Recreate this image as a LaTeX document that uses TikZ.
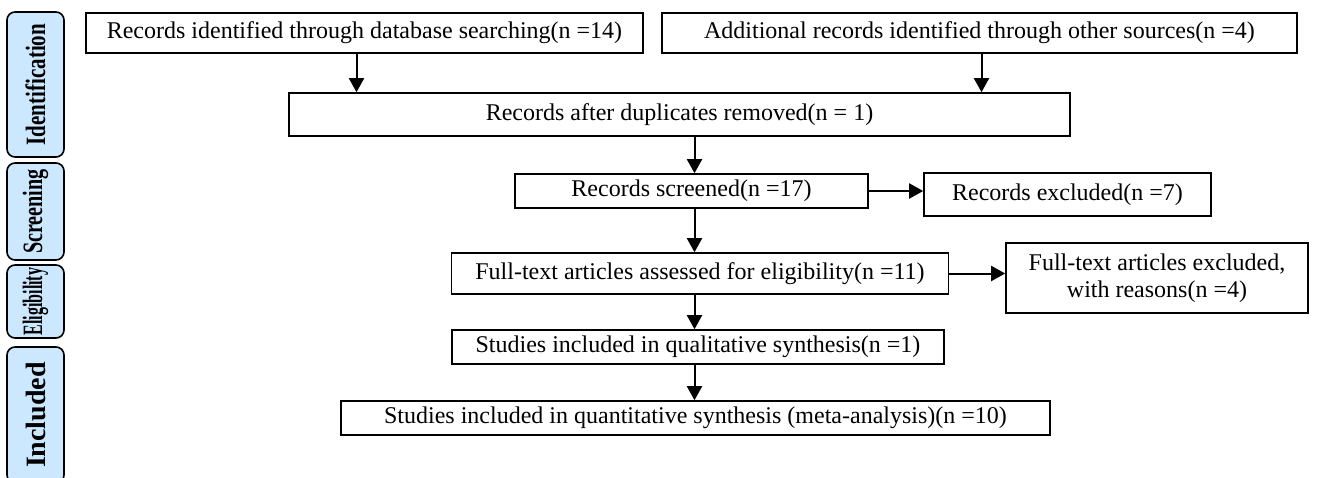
\documentclass[tikz,border=0pt]{standalone}
\usepackage{fontspec}
\setmainfont{Liberation Serif}
\usepackage{xcolor}
\usepackage{graphicx}
\usetikzlibrary{arrows.meta, positioning, calc}
\definecolor{stageblue}{RGB}{204,232,255}

\begin{document}
\begin{tikzpicture}[
    x=0.5pt, y=-0.5pt,
    recbox/.style={rectangle, draw=black, line width=0.8pt, fill=white, inner sep=0pt, align=center, font=\fontsize{12}{13.5}\selectfont},
    stagebox/.style={rectangle, draw=black, line width=0.8pt, fill=stageblue, rounded corners=4pt, rotate=90, inner sep=0pt, minimum height=28.5pt, font=\fontsize{14}{15}\selectfont\bfseries},
    arrow/.style={-{Triangle[length=7pt, width=7.5pt]}, line width=1pt, draw=black}
]
\useasboundingbox (0,0) rectangle (1318,477);

% Stage labels on the left
\node[stagebox, minimum width=72.5pt] (ident) at (35.5, 84.5) {\scalebox{0.75}[1]{Identification}};
\node[stagebox, minimum width=48.5pt] (screen) at (35.5, 211.5) {\scalebox{0.72}[1]{Screening}};
\node[stagebox, minimum width=36.5pt] (elig) at (35.5, 301.5) {\scalebox{0.57}[1]{Eligibility}};
\node[stagebox, minimum width=68pt] (incl) at (35.5, 415) {\scalebox{1.0}[1]{Included}};

% Identification: sources and de-duplication
\node[recbox, minimum width=278.5pt, minimum height=20pt] (dbsearch) at (364.5, 33) {Records identified through database searching(n =14)};
\node[recbox, minimum width=317.5pt, minimum height=20pt] (othersrc) at (979.5, 33) {Additional records identified through other sources(n =4)};
\node[recbox, minimum width=390.5pt, minimum height=21.5pt] (dedup) at (679.5, 114.5) {Records after duplicates removed(n = 1)};

% Screening and eligibility
\node[recbox, minimum width=176.5pt, minimum height=17pt] (screened) at (691.5, 191) {Records screened(n =17)};
\node[recbox, minimum width=143.5pt, minimum height=21.5pt] (excluded) at (1067.5, 194.5) {Records excluded(n =7)};
\node[recbox, minimum width=248.5pt, minimum height=20.5pt] (fulltext) at (700, 273.5) {Full-text articles assessed for eligibility(n =11)};
\node[recbox, minimum width=151pt, minimum height=35pt] (ftexcl) at (1157, 278) {Full-text articles excluded,\\with reasons(n =4)};

% Included studies
\node[recbox, minimum width=246pt, minimum height=17pt] (qual) at (698, 347) {Studies included in qualitative synthesis(n =1)};
\node[recbox, minimum width=354.5pt, minimum height=17pt] (quant) at (695.5, 418) {Studies included in quantitative synthesis (meta-analysis)(n =10)};

% Main column of arrows
\coordinate (spine) at (694.5, 0);
\draw[arrow] ([xshift=-4pt]dbsearch.south) -- ([xshift=-4pt]dbsearch.south |- dedup.north);
\draw[arrow] ([xshift=1pt]othersrc.south) -- ([xshift=1pt]othersrc.south |- dedup.north);
\draw[arrow] (dedup.south -| spine) -- (screened.north -| spine);
\draw[arrow] (screened.south -| spine) -- (fulltext.north -| spine);
\draw[arrow] (fulltext.south -| spine) -- (qual.north -| spine);
\draw[arrow] (qual.south -| spine) -- (quant.north -| spine);

% Exclusion arrows
\draw[arrow] (screened.east) -- (screened.east -| excluded.west);
\draw[arrow] (fulltext.east) -- (fulltext.east -| ftexcl.west);

\end{tikzpicture}
\end{document}
